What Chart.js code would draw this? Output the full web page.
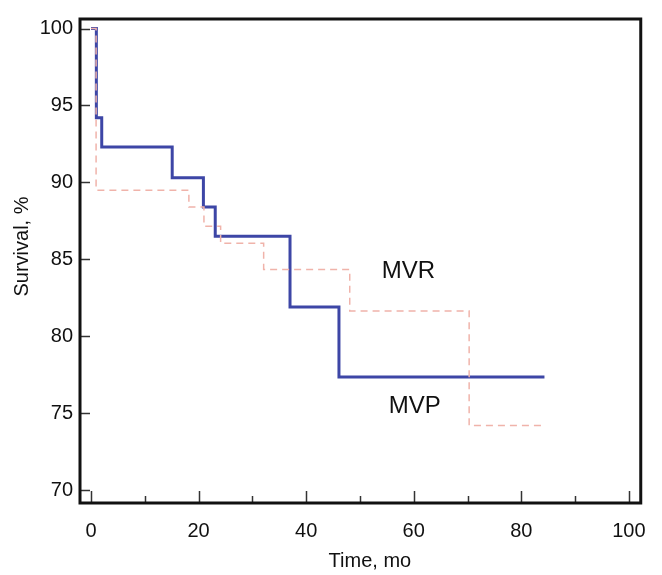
<!DOCTYPE html>
<html>
<head>
<meta charset="utf-8">
<script src="https://cdn.jsdelivr.net/npm/chart.js@4.4.1/dist/chart.umd.min.js"></script>
<style>
  html, body { margin: 0; padding: 0; background: #fff; }
  #wrap { width: 662px; height: 575px; }
</style>
</head>
<body>
<div id="wrap"><canvas id="km"></canvas></div>
<script>
// ── Data ────────────────────────────────────────────────────
const mvpTime = [0, 1.0, 2.0, 15.1, 20.9, 23.1, 37.0, 46.1, 84.3];
const mvpSurv = [100, 94.2, 92.3, 90.3, 88.4, 86.5, 81.9, 77.35, 77.35];
const mvrTime = [0, 0.95, 18.2, 21.0, 24.1, 32.1, 48.1, 70.3, 84.3];
const mvrSurv = [100, 89.5, 88.4, 87.15, 86.05, 84.35, 81.65, 74.2, 74.2];
const xTicks  = [0, 10, 20, 30, 40, 50, 60, 70, 80, 90, 100];
const yTicks  = [70, 75, 80, 85, 90, 95, 100];
const curveLabels = [
  { text: 'MVR', t: 59.0, s: 84.2 },
  { text: 'MVP', t: 60.2, s: 75.45 }
];

const FONT = '"Liberation Sans", Arial, sans-serif';
const pts = (ts, ss) => ts.map((t, i) => ({ x: t, y: ss[i] }));

// ── Frame, inward ticks, titles, curve labels ───────────────
const decor = {
  id: 'decor',
  afterDraw(chart) {
    const { ctx, chartArea: a, scales: { x, y } } = chart;
    ctx.save();
    ctx.strokeStyle = '#333';
    ctx.lineWidth = 1.5;
    xTicks.forEach(v => {
      const px = Math.round(x.getPixelForValue(v)) + 0.5;
      const len = v % 20 === 0 ? 12 : 7;
      ctx.beginPath(); ctx.moveTo(px, a.bottom); ctx.lineTo(px, a.bottom - len); ctx.stroke();
    });
    yTicks.forEach(v => {
      const py = Math.round(y.getPixelForValue(v)) + 0.5;
      ctx.beginPath(); ctx.moveTo(a.left, py); ctx.lineTo(a.left + 10, py); ctx.stroke();
    });
    ctx.strokeStyle = '#111';
    ctx.lineWidth = 3;
    ctx.strokeRect(a.left, a.top, a.width, a.height);

    ctx.fillStyle = '#111';
    ctx.textAlign = 'center';
    ctx.textBaseline = 'middle';
    ctx.font = '24px ' + FONT;
    curveLabels.forEach(l => ctx.fillText(l.text, x.getPixelForValue(l.t), y.getPixelForValue(l.s)));

    ctx.font = '20px ' + FONT;
    ctx.fillText('Time, mo', a.left + a.width / 2 + 9.5, a.bottom + 58);
    ctx.translate(22, (a.top + a.bottom) / 2 - 14.5);
    ctx.rotate(-Math.PI / 2);
    ctx.fillText('Survival, %', 0, 0);
    ctx.restore();
  }
};

new Chart(document.getElementById('km'), {
  type: 'line',
  data: {
    datasets: [
      { label: 'MVR', data: pts(mvrTime, mvrSurv), stepped: true, borderColor: '#f0b3aa',
        borderWidth: 1.5, borderDash: [7, 5], pointRadius: 0, fill: false },
      { label: 'MVP', data: pts(mvpTime, mvpSurv), stepped: true, borderColor: '#3d46a6',
        borderWidth: 3, pointRadius: 0, fill: false }
    ]
  },
  options: {
    responsive: true,
    maintainAspectRatio: false,
    animation: false,
    layout: { padding: { top: 13, right: 19, left: 0, bottom: 0 } },
    plugins: { legend: { display: false }, tooltip: { enabled: false } },
    scales: {
      x: {
        type: 'linear', min: -2.04, max: 102.2,
        grid: { display: false, drawTicks: false },
        border: { display: false },
        afterBuildTicks: s => { s.ticks = xTicks.map(v => ({ value: v })); },
        afterFit: s => { s.height = 72; },
        ticks: { padding: 16, color: '#111', font: { size: 20, family: FONT },
                 maxRotation: 0, autoSkip: false,
                 callback: v => (v % 20 === 0 ? v : '') }
      },
      y: {
        min: 69.17, max: 100.62,
        grid: { display: false, drawTicks: false },
        border: { display: false },
        afterBuildTicks: s => { s.ticks = yTicks.map(v => ({ value: v })); },
        afterFit: s => { s.width = 80; },
        ticks: { padding: 7, color: '#111', font: { size: 20, family: FONT } }
      }
    }
  },
  plugins: [decor]
});
</script>
</body>
</html>
